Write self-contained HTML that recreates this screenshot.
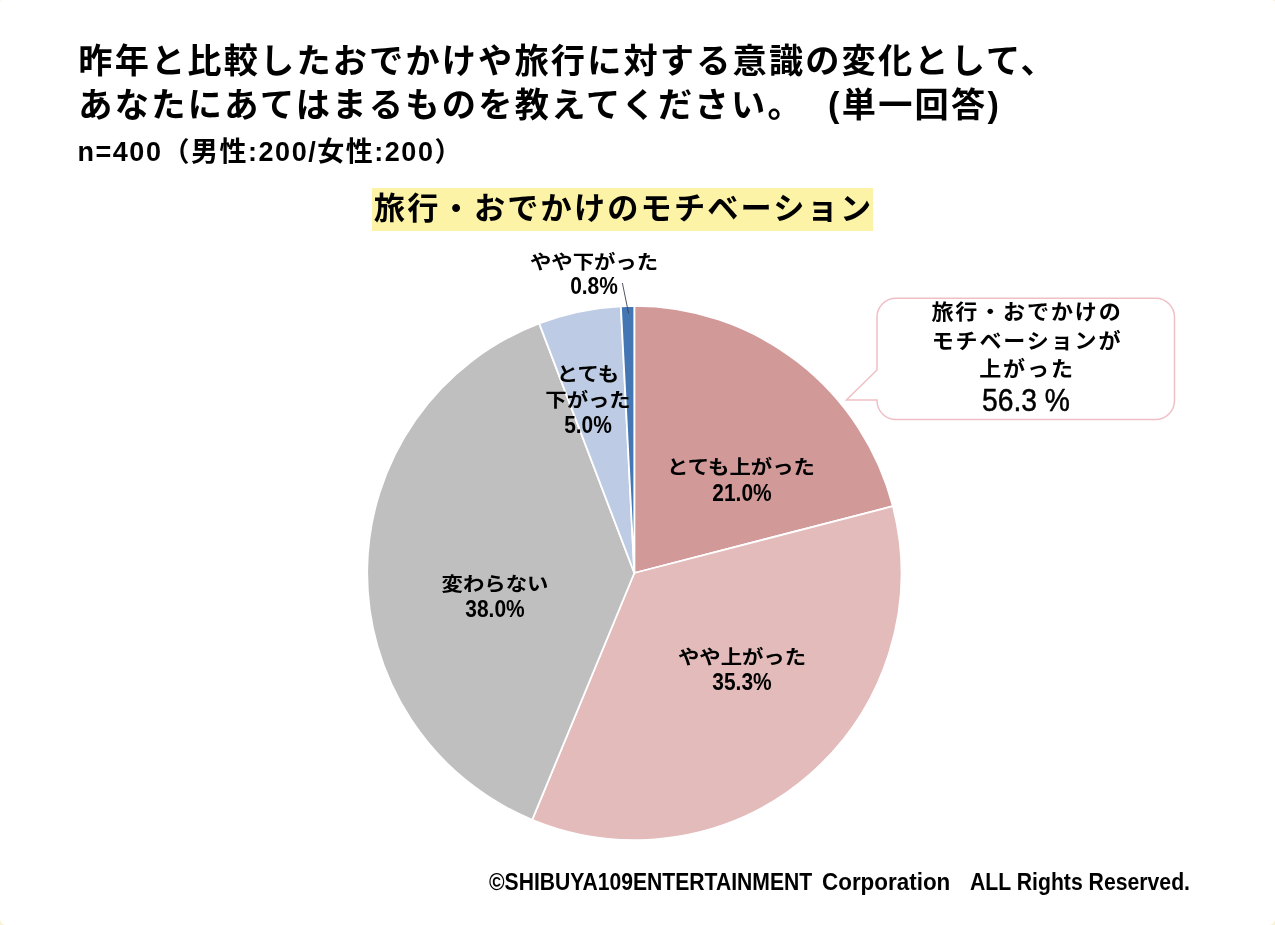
<!DOCTYPE html>
<html lang="ja">
<head>
<meta charset="utf-8">
<title>旅行・おでかけのモチベーション</title>
<style>
html,body{margin:0;padding:0;}
body{width:1275px;height:925px;position:relative;overflow:hidden;background:#f8f2d2;
  font-family:"Liberation Sans","Noto Sans CJK JP",sans-serif;color:#000;font-weight:bold;}
#card{position:absolute;left:0;top:0;width:1275px;height:925px;background:#fff;border-radius:2px 3px 6px 6px;}
.t{position:absolute;white-space:nowrap;line-height:1;margin:0;}
.c{text-align:center;transform:translateX(-50%);}
#title1,#title2{left:78.3px;font-size:34.2px;letter-spacing:2.16px;}
#title1{top:44.3px;}
#title2{top:87.5px;letter-spacing:2.3px;}
#sub{left:77.5px;top:138.5px;font-size:27px;letter-spacing:1.53px;}
#hl{position:absolute;left:372.2px;top:188.4px;width:500.7px;height:42.4px;background:#fdf3a6;}
#head{left:623.6px;top:193.2px;font-size:31.2px;letter-spacing:2.15px;}
.j{font-size:19.3px;transform:translateX(-50%) scaleX(1.108);}
.d{font-size:23.0px;transform:translateX(-50%) scaleX(0.91);}
.k{font-size:21px;letter-spacing:1.75px;transform:translateX(-50%) scaleX(1.05);}
.n{font-size:31.4px;font-weight:normal;-webkit-text-stroke:0.5px #000;transform:translateX(-50%) scaleX(0.9);}
#foot{position:absolute;left:0;top:871px;font-size:23px;}
#foot span{top:0;transform-origin:0 0;}
svg{position:absolute;left:0;top:0;}
</style>
</head>
<body>
<div id="card">
<svg width="1275" height="925" viewBox="0 0 1275 925">
<g stroke="#fff" stroke-width="1.8" stroke-linejoin="round">
<path d="M634.3 573.0L634.30 305.90A267.1 267.1 0 0 1 892.92 506.23Z" fill="#d19a99"/>
<path d="M634.3 573.0L892.92 506.23A267.1 267.1 0 0 1 532.18 819.81Z" fill="#e2bbba"/>
<path d="M634.3 573.0L532.18 819.81A267.1 267.1 0 0 1 539.19 323.41Z" fill="#bfbfbf"/>
<path d="M634.3 573.0L539.19 323.41A267.1 267.1 0 0 1 620.89 306.24Z" fill="#bdcce4"/>
<path d="M634.3 573.0L620.89 306.24A267.1 267.1 0 0 1 634.30 305.90Z" fill="#4476b3"/>
</g>
<path d="M622.4 283L628.6 313.5" stroke="#3d4350" stroke-width="0.9" fill="none"/>
<path d="M896 298.2H1155.5A19 19 0 0 1 1174.5 317.2V400.5A19 19 0 0 1 1155.5 419.5H896A19 19 0 0 1 877 400.5V400L846.4 400L877 370V317.2A19 19 0 0 1 896 298.2Z" fill="#fff" stroke="#efbfc5" stroke-width="1.5" stroke-linejoin="miter"/>
</svg>
<div id="hl"></div>
<div class="t" id="title1">昨年と比較したおでかけや旅行に対する意識の変化として、</div>
<div class="t" id="title2">あなたにあてはまるものを教えてください。<span style="display:inline-block;width:24px"></span>(単一回答)</div>
<div class="t" id="sub">n=400（男性:200/女性:200）</div>
<div class="t c" id="head">旅行・おでかけのモチベーション</div>
<div class="t c j" id="l1a" style="left:594.4px;top:252.5px;">やや下がった</div>
<div class="t c d" id="l1b" style="left:593.8px;top:275.0px;">0.8%</div>
<div class="t c j" id="l2a" style="left:587.9px;top:364.9px;">とても</div>
<div class="t c j" id="l2b" style="left:587.5px;top:390.7px;">下がった</div>
<div class="t c d" id="l2c" style="left:587.8px;top:413.5px;">5.0%</div>
<div class="t c j" id="l3a" style="left:740.8px;top:457.7px;">とても上がった</div>
<div class="t c d" id="l3b" style="left:741.6px;top:481.5px;">21.0%</div>
<div class="t c j" id="l4a" style="left:741.6px;top:647.7px;">やや上がった</div>
<div class="t c d" id="l4b" style="left:742.0px;top:671.0px;">35.3%</div>
<div class="t c j" id="l5a" style="left:495.3px;top:574.5px;">変わらない</div>
<div class="t c d" id="l5b" style="left:495.4px;top:598.0px;">38.0%</div>
<div class="t c k" id="c1" style="left:1026.6px;top:300.8px;">旅行・おでかけの</div>
<div class="t c k" id="c2" style="left:1026.9px;top:329.8px;">モチベーションが</div>
<div class="t c k" id="c3" style="left:1026.6px;top:358.0px;">上がった</div>
<div class="t c n" id="c4" style="left:1025.7px;top:385.2px;">56.3 %</div>
<div id="foot"><span class="t" style="left:489.4px;transform:scaleX(0.9187)">©SHIBUYA109ENTERTAINMENT </span><span class="t" style="left:822px;transform:scaleX(0.975)">Corporation　</span><span class="t" style="left:969.6px;transform:scaleX(0.922)">ALL Rights Reserved.</span></div>
</div>
</body>
</html>
